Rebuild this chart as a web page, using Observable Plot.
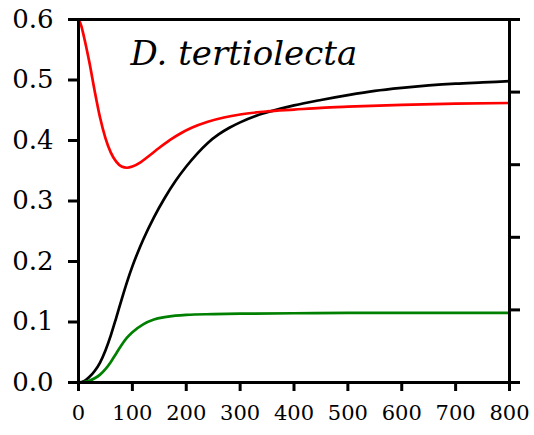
<!DOCTYPE html>
<html>
<head>
<meta charset="utf-8">
<script src="https://cdn.jsdelivr.net/npm/d3@7"></script>
<script src="https://cdn.jsdelivr.net/npm/@observablehq/plot@0.6"></script>
<style>
  html, body { margin: 0; padding: 0; background: #fff; }
</style>
</head>
<body>
<div id="chart"></div>
<script>
const title = "D. tertiolecta";

const blackX = [0, 10, 20, 30, 40, 50, 60, 70, 80, 90, 100, 110, 120, 140, 160, 180, 200, 220, 240, 260, 280, 300, 330, 360, 400, 450, 500, 550, 600, 650, 700, 750, 800];
const blackY = [0, 0.002, 0.009, 0.019, 0.033, 0.053, 0.078, 0.107, 0.137, 0.166, 0.192, 0.215, 0.236, 0.273, 0.305, 0.333, 0.357, 0.378, 0.396, 0.41, 0.421, 0.43, 0.441, 0.449, 0.458, 0.467, 0.475, 0.482, 0.487, 0.491, 0.494, 0.496, 0.498];

const redX = [0, 5, 10, 20, 30, 40, 50, 60, 70, 80, 90, 100, 115, 130, 150, 170, 190, 210, 240, 270, 300, 350, 400, 450, 500, 600, 700, 800];
const redY = [0.6, 0.59, 0.572, 0.53, 0.482, 0.438, 0.404, 0.38, 0.365, 0.357, 0.355, 0.357, 0.364, 0.374, 0.388, 0.401, 0.412, 0.421, 0.431, 0.438, 0.443, 0.448, 0.451, 0.454, 0.456, 0.459, 0.461, 0.462];

const greenX = [0, 20, 30, 40, 50, 60, 70, 80, 90, 100, 120, 140, 160, 180, 200, 250, 300, 400, 500, 600, 700, 800];
const greenY = [0, 0.003, 0.007, 0.013, 0.022, 0.034, 0.048, 0.062, 0.074, 0.083, 0.096, 0.104, 0.108, 0.1105, 0.1118, 0.113, 0.1138, 0.1145, 0.115, 0.115, 0.115, 0.115];

const xTicks = [0, 100, 200, 300, 400, 500, 600, 700, 800];
const yTicks = [0, 0.1, 0.2, 0.3, 0.4, 0.5, 0.6];
const rightTicks = [0, 0.12, 0.24, 0.36, 0.48, 0.6];

const serif = "DejaVu Serif";

const toRows = (xs, ys) => xs.map((x, i) => ({x, y: ys[i]}));
const black = toRows(blackX, blackY);
const red = toRows(redX, redY);
const green = toRows(greenX, greenY);

const chart = Plot.plot({
  width: 534,
  height: 435,
  marginLeft: 78,
  marginRight: 25,
  marginTop: 19,
  marginBottom: 53,
  style: {background: "#fff", color: "#000", fontFamily: serif},
  x: {domain: [0, 800]},
  y: {domain: [0, 0.6]},
  marks: [
    Plot.line(black, {x: "x", y: "y", stroke: "#000", strokeWidth: 2.7, curve: "monotone-x"}),
    Plot.line(green, {x: "x", y: "y", stroke: "#008000", strokeWidth: 2.7, curve: "monotone-x"}),
    Plot.line(red, {x: "x", y: "y", stroke: "#ff0000", strokeWidth: 2.7, curve: "monotone-x"}),
    Plot.frame({stroke: "#000", strokeWidth: 3}),
    Plot.axisY(yTicks, {anchor: "left", tickSize: 10, tickPadding: 15, tickFormat: d3.format(".1f"), fontSize: 26, fontFamily: serif, strokeWidth: 3, label: null}),
    Plot.axisY(rightTicks, {anchor: "right", tickSize: 10, tickFormat: () => "", strokeWidth: 3, label: null}),
    Plot.axisX(xTicks, {anchor: "bottom", tickSize: 9, tickPadding: 14, tickFormat: d => String(d), fontSize: 21, fontFamily: serif, strokeWidth: 3, label: null}),
    Plot.text([title], {frameAnchor: "top-left", dx: 52, dy: 45, lineAnchor: "bottom", textAnchor: "start", fontSize: 34, fontStyle: "italic", fontFamily: serif, fill: "#000"})
  ]
});
document.getElementById("chart").appendChild(chart);
</script>
</body>
</html>
